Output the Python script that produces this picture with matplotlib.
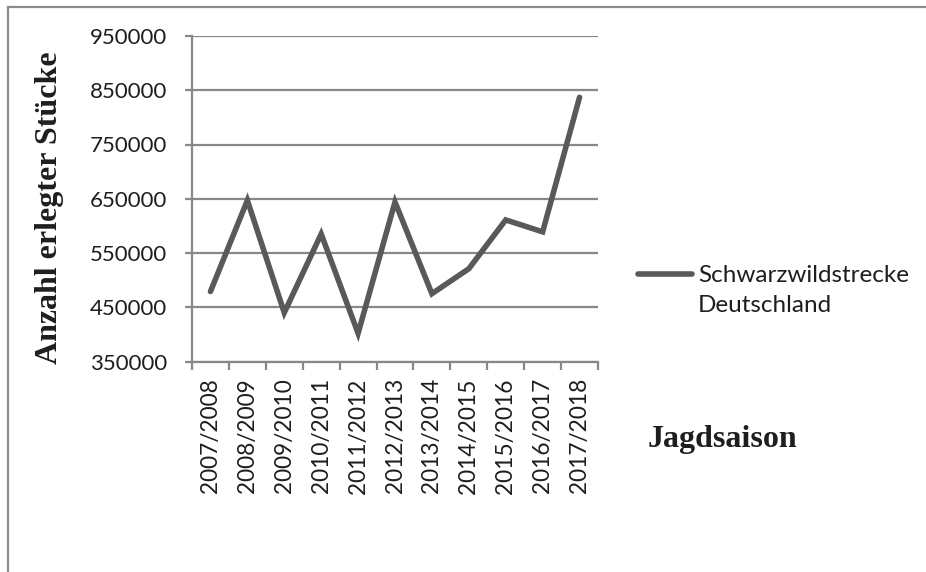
import matplotlib
matplotlib.use("Agg")
import matplotlib.pyplot as plt
from matplotlib.lines import Line2D
import numpy as np

# Jagdsaisons und Schwarzwildstrecke in Deutschland
seasons = ["2007/2008", "2008/2009", "2009/2010", "2010/2011", "2011/2012",
           "2012/2013", "2013/2014", "2014/2015", "2015/2016", "2016/2017",
           "2017/2018"]
strecke = [479000, 647000, 440000, 585000, 402000, 644000,
           475000, 521000, 611000, 589000, 837000]
y_ticks = [350000, 450000, 550000, 650000, 750000, 850000, 950000]

line_color = "#595959"
grid_color = "#888888"
text_color = "#1e1e1e"
tick_font = "Lato"
label_font = "Liberation Serif"

fig = plt.figure(figsize=(9.26, 5.72), dpi=100)
ax = fig.add_axes([192 / 926, 1 - 361.5 / 572, 406 / 926, 325.5 / 572])

x = np.arange(len(seasons))
line, = ax.plot(x, strecke, color=line_color, linewidth=4.0,
                solid_joinstyle="miter", solid_capstyle="round", zorder=3)

ax.set_xlim(-0.5, len(seasons) - 0.5)
ax.set_ylim(y_ticks[0], y_ticks[-1])

# horizontal grid lines
ax.set_yticks(y_ticks)
ax.set_yticklabels([str(v) for v in y_ticks], fontfamily=tick_font,
                   fontsize=16, color=text_color)
ax.yaxis.grid(True, color=grid_color, linewidth=1.6)
ax.tick_params(axis="y", length=5, width=1.6, color=grid_color, pad=13)

# category labels in the middle, tick marks on the boundaries
ax.set_xticks(x)
ax.set_xticklabels(seasons, rotation=90, fontfamily=tick_font, fontsize=16.3,
                   color=text_color)
ax.set_xticks(np.arange(-0.5, len(seasons)), minor=True)
ax.tick_params(axis="x", which="major", length=0, pad=12)
ax.tick_params(axis="x", which="minor", length=6, width=1.6, color=grid_color)

for side in ["top", "right"]:
    ax.spines[side].set_visible(False)
for side in ["left", "bottom"]:
    ax.spines[side].set_color(grid_color)
    ax.spines[side].set_linewidth(1.6)

fig.text(50 / 926, 1 - 208 / 572, "Anzahl erlegter Stücke", rotation=90,
         ha="center", va="center", fontfamily=label_font, fontweight="bold",
         fontsize=23, color=text_color)
fig.text(648 / 926, 1 - 440 / 572, "Jagdsaison", ha="left", va="center",
         fontfamily=label_font, fontweight="bold", fontsize=23,
         color=text_color)

# legend: key on the first line, second line of the label below it
blank = Line2D([], [], alpha=0)
leg = fig.legend([line, blank], ["Schwarzwildstrecke", "Deutschland"],
                 loc="upper left", bbox_to_anchor=(626 / 926, 1 - 253 / 572),
                 frameon=False, handlelength=2.22, handletextpad=0.25,
                 labelspacing=0.38, borderpad=0,
                 prop={"family": tick_font, "size": 17.5})
for t in leg.get_texts():
    t.set_color(text_color)

# outer frame (top and left edges)
frame_kw = dict(color="#8c8c8c", linewidth=1.6, transform=fig.transFigure)
fig.add_artist(Line2D([8 / 926, 1], [1 - 7 / 572, 1 - 7 / 572], **frame_kw))
fig.add_artist(Line2D([8 / 926, 8 / 926], [0, 1 - 7 / 572], **frame_kw))

fig.savefig("out.png", dpi=100, facecolor="white")
